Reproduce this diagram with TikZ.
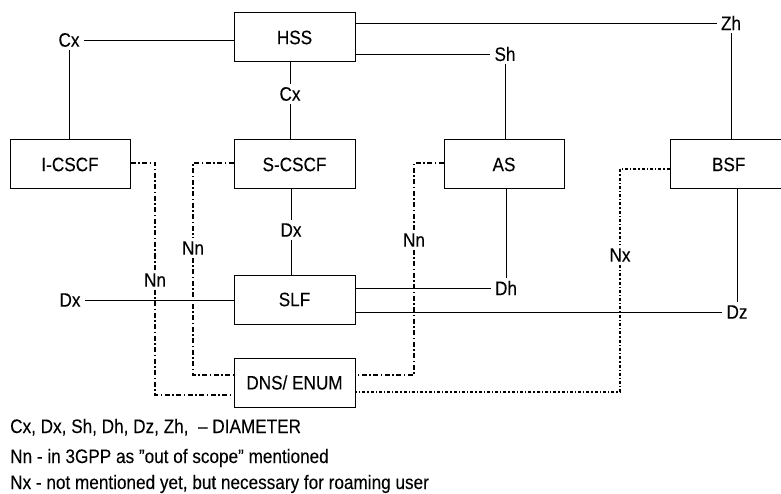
\documentclass[tikz,border=0pt]{standalone}
\usepackage{fontspec}
\setmainfont{Liberation Sans}[FakeStretch=0.88,FakeBold=0.1]
\begin{document}
\begin{tikzpicture}[x=1pt,y=-1pt,
  box/.style={draw,line width=1pt,minimum width=121pt,minimum height=49pt,inner sep=0pt,font=\fontsize{19.5}{22}\selectfont},
  lbl/.style={inner xsep=4pt,inner ysep=3pt,font=\fontsize{19.5}{22}\selectfont},
  legend/.style={anchor=base west,inner sep=0pt,font=\fontsize{19.5}{22}\selectfont},
  con/.style={line width=0.9pt},
  nn/.style={line width=1.4pt,dash pattern=on 5pt off 2.5pt on 1.5pt off 2.5pt},
  nx/.style={line width=1.1pt,dash pattern=on 3pt off 2pt on 1.3pt off 2pt}]
\useasboundingbox (0,0) rectangle (781,494);
\clip (0,0) rectangle (781,494);
% boxes
\node[box] (HSS) at (294.5,37.5) {HSS};
\node[box,minimum width=120pt] (ICSCF) at (70,164.5) {I-CSCF};
\node[box] (SCSCF) at (294.5,164.5) {S-CSCF};
\node[box,minimum width=120pt] (AS) at (504,164.5) {AS};
\node[box,minimum width=140pt,text width=120pt,align=left] (BSF) at (740,164.5) {\hspace*{32pt}BSF};
\node[box] (SLF) at (294.5,299.5) {SLF};
\node[box] (DNS) at (294.5,382.5) {DNS/ ENUM};
% labels
\node[lbl] (Cx1) at (69,40) {Cx};
\node[lbl] (Cx2) at (290,94) {Cx};
\node[lbl] (Dx1) at (291,230) {Dx};
\node[lbl] (Sh) at (505,54) {Sh};
\node[lbl] (Zh) at (731,23) {Zh};
\node[lbl] (Dh) at (506,288) {Dh};
\node[lbl] (Dz) at (737,312) {Dz};
\node[lbl] (Dx2) at (70,300) {Dx};
\node[lbl] (Nn1) at (155,280) {Nn};
\node[lbl] (Nn2) at (193,248) {Nn};
\node[lbl] (Nn3) at (414,240) {Nn};
\node[lbl] (Nx) at (620,255) {Nx};
% solid connectors
\draw[con] (Cx1.east) -- (Cx1.east -| HSS.west);
\draw[con] (Cx1.south) -- (Cx1.south |- ICSCF.north);
\draw[con] (HSS.south -| Cx2) -- (Cx2.north);
\draw[con] (Cx2.south) -- (Cx2.south |- SCSCF.north);
\draw[con] (SCSCF.south -| Dx1) -- (Dx1.north);
\draw[con] (Dx1.south) -- (Dx1.south |- SLF.north);
\draw[con] (Zh.west -| HSS.east) -- (Zh.west);
\draw[con] (Sh.west -| HSS.east) -- (Sh.west);
\draw[con] (Sh.south) -- (Sh.south |- AS.north);
\draw[con] (Zh.south) -- (Zh.south |- BSF.north);
\draw[con] (BSF.south -| Dz.north) -- (Dz.north);
\draw[con] (Dh.west -| SLF.east) -- (Dh.west);
\draw[con] (AS.south -| Dh.north) -- (Dh.north);
\draw[con] (Dz.west -| SLF.east) -- (Dz.west);
\draw[con] (Dx2.north -| ICSCF.south) -- (Dx2.north);
\draw[con] (Dx2.east) -- (Dx2.east -| SLF.west);
% dash-dot connectors
\draw[nn] ([yshift=1.5pt]ICSCF.east) -| (Nn1.north);
\draw[nn] (Nn1.south) |- ([yshift=-12.5pt]DNS.west);
\draw[nn] ([yshift=1.5pt]SCSCF.west) -| (Nn2.north);
\draw[nn] (Nn2.south) |- ([yshift=7.5pt]DNS.west);
\draw[nn] ([yshift=1.5pt]AS.west) -| (Nn3.north);
\draw[nn] (Nn3.south) |- ([yshift=7.5pt]DNS.east);
\draw[nx] ([yshift=-4.5pt]BSF.west) -| (Nx.north);
\draw[nx] (Nx.south) |- ([yshift=-9.5pt]DNS.east);
% legend
\node[legend] (L1) at (10,433) {Cx, Dx, Sh, Dh, Dz, Zh,\ \ – DIAMETER};
\node[legend] (L2) at (10,463) {Nn - in 3GPP as {\char34}out of scope{\char34} mentioned};
\node[legend] (L3) at (10,489) {Nx - not mentioned yet, but necessary for roaming user};
\end{tikzpicture}
\end{document}
